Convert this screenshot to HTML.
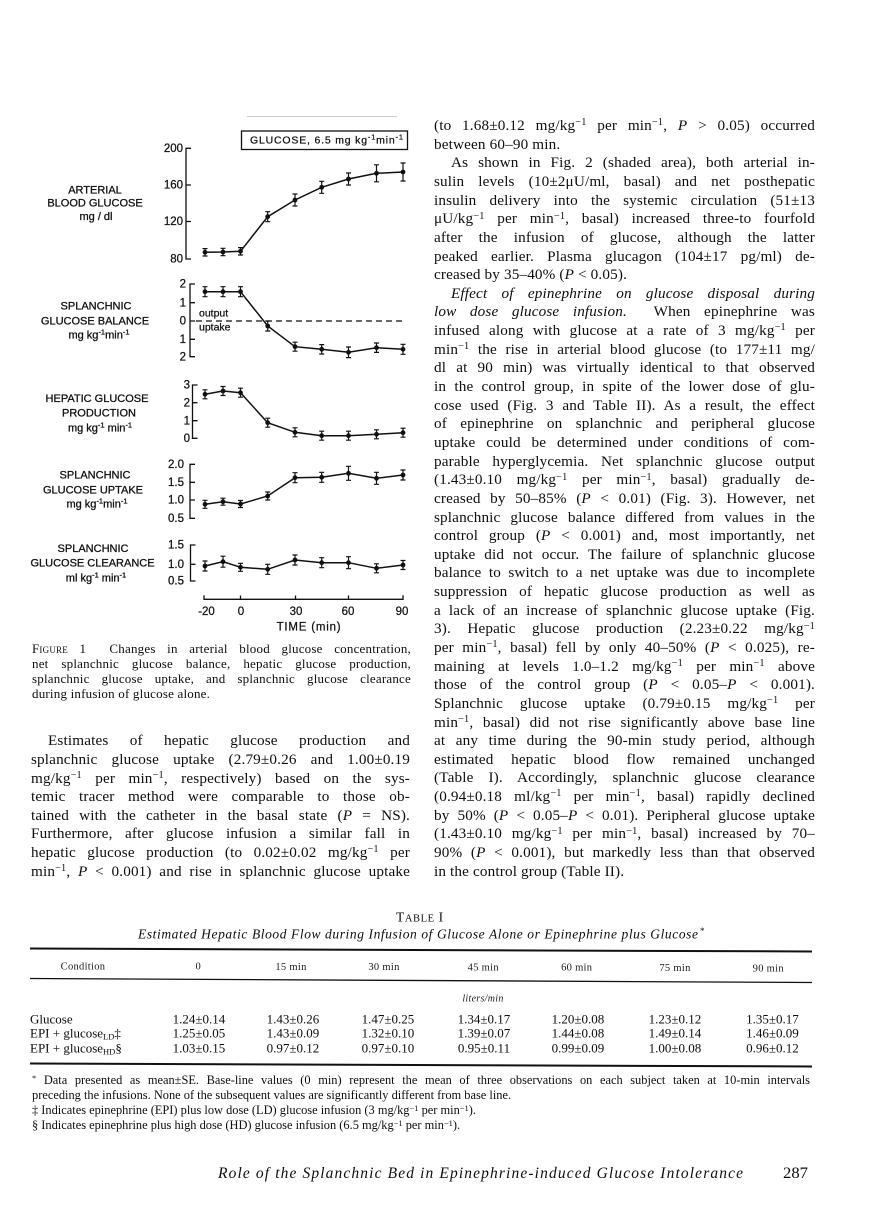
<!DOCTYPE html>
<html><head><meta charset="utf-8">
<style>
html,body{margin:0;padding:0;background:#fff}
body{width:890px;height:1228px;position:relative;overflow:hidden}
svg{position:absolute;left:0;top:0}
.t{position:absolute;font-family:"Liberation Serif",serif;color:#0e0e0e}
.t div{text-align:justify;text-align-last:justify;overflow:hidden}
.t div.e{text-align-last:left}
.t div.in{text-indent:17px}
.body{font-size:15.2px;line-height:18.65px;letter-spacing:0.15px}
.body div{height:18.65px}
.cap{font-size:13px;line-height:14.8px;letter-spacing:0.2px}
.cap div{height:14.8px}
.fn{font-size:12.4px;line-height:15px}
.fn div{height:15px}
sup{font-size:.68em;vertical-align:baseline;position:relative;top:-.45em;line-height:0}
.sc{font-variant:small-caps}
</style></head><body>

<svg width="890" height="1228" viewBox="0 0 890 1228" xmlns="http://www.w3.org/2000/svg">
<defs>
<marker id="dot" markerWidth="6" markerHeight="6" refX="3" refY="3" markerUnits="userSpaceOnUse"><circle cx="3" cy="3" r="2.4" fill="#111"/></marker>
</defs>
<line x1="247" y1="116.5" x2="397" y2="116.5" stroke="#ccc" stroke-width="1"/>
<!-- legend box -->
<rect x="241.5" y="131" width="166" height="18.5" fill="none" stroke="#111" stroke-width="1.3"/>
<text x="250" y="143.5" font-family="Liberation Sans, sans-serif" font-size="10.5" fill="#111" stroke="#111" stroke-width="0.25" textLength="153" lengthAdjust="spacing">GLUCOSE, 6.5 mg kg<tspan dy="-4" font-size="7.5">-1</tspan><tspan dy="4">min</tspan><tspan dy="-4" font-size="7.5">-1</tspan></text>

<g font-family="Liberation Sans, sans-serif" font-size="11" fill="#111" stroke="#111" stroke-width="0.3" text-anchor="middle">
<text x="95" y="193.3">ARTERIAL</text>
<text x="95" y="206.7">BLOOD GLUCOSE</text>
<text x="96" y="220">mg / dl</text>
<text x="96" y="309.5">SPLANCHNIC</text>
<text x="95" y="324.5">GLUCOSE BALANCE</text>
<text x="99" y="338.3">mg kg<tspan dy="-4" font-size="7.5">-1</tspan><tspan dy="4">min</tspan><tspan dy="-4" font-size="7.5">-1</tspan></text>
<text x="97" y="402">HEPATIC GLUCOSE</text>
<text x="99" y="416.5">PRODUCTION</text>
<text x="100" y="431.5">mg kg<tspan dy="-4" font-size="7.5">-1</tspan><tspan dy="4"> min</tspan><tspan dy="-4" font-size="7.5">-1</tspan></text>
<text x="95" y="478.5">SPLANCHNIC</text>
<text x="93" y="493.5">GLUCOSE UPTAKE</text>
<text x="97" y="507.5">mg kg<tspan dy="-4" font-size="7.5">-1</tspan><tspan dy="4">min</tspan><tspan dy="-4" font-size="7.5">-1</tspan></text>
<text x="93" y="552">SPLANCHNIC</text>
<text x="92.5" y="566.7">GLUCOSE CLEARANCE</text>
<text x="96" y="581.7">ml kg<tspan dy="-4" font-size="7.5">-1</tspan><tspan dy="4"> min</tspan><tspan dy="-4" font-size="7.5">-1</tspan></text>
</g>

<!-- tick labels -->
<g font-family="Liberation Sans, sans-serif" font-size="11.5" fill="#111" stroke="#111" stroke-width="0.25" text-anchor="end">
<text x="183" y="152">200</text><text x="183" y="188.7">160</text><text x="183" y="225.2">120</text><text x="183" y="262.7">80</text>
<text x="186" y="287.7">2</text><text x="186" y="306.4">1</text><text x="186" y="324.7">0</text><text x="186" y="343">1</text><text x="186" y="360.4">2</text>
<text x="190" y="388.7">3</text><text x="190" y="406.4">2</text><text x="190" y="424.4">1</text><text x="190" y="442">0</text>
<text x="184" y="468">2.0</text><text x="184" y="486">1.5</text><text x="184" y="503.7">1.0</text><text x="184" y="522">0.5</text>
<text x="184" y="548.7">1.5</text><text x="184" y="568">1.0</text><text x="184" y="584.7">0.5</text>
</g>
<g font-family="Liberation Sans, sans-serif" font-size="10.5" fill="#111" stroke="#111" stroke-width="0.25">
<text x="199" y="316.5">output</text>
<text x="199" y="330.5">uptake</text>
</g>
<g font-family="Liberation Sans, sans-serif" font-size="11.5" fill="#111" stroke="#111" stroke-width="0.25" text-anchor="middle">
<text x="206.5" y="615">-20</text><text x="241" y="615">0</text><text x="296" y="615">30</text><text x="348" y="615">60</text><text x="402" y="615">90</text>
<text x="309" y="630.5" letter-spacing="0.8">TIME (min)</text>
</g>

<!-- axes -->
<g fill="none" stroke="#111" stroke-width="1.3">
<path d="M191 148.3H186V259H191M186 185h5M186 221.5h5"/>
<path d="M195 284H190V356.7H195M190 302.7h5M190 321h5M190 339.3h5"/>
<path d="M197.5 385H192.5V438.3H197.5M192.5 402.7h5M192.5 420.7h5"/>
<path d="M195 464.3H190V518.3H195M190 482.3h5M190 500h5"/>
<path d="M195.5 545H190.5V581H195.5M190.5 564.3h5"/>
<path d="M204 595.3V599.3H403V595.3M240.5 599.3v-3.8M295.5 599.3v-3.8M348.5 599.3v-3.8"/>
</g>
<line x1="196" y1="321" x2="406" y2="321" stroke="#111" stroke-width="1.2" stroke-dasharray="6 4"/>

<!-- series -->
<g fill="none" stroke="#111" stroke-width="1.5" marker-start="url(#dot)" marker-mid="url(#dot)" marker-end="url(#dot)">
<polyline points="205,252.3 223,252 240.5,251.3 267.7,216.7 295,200 321.7,187.3 348.5,179 376.5,173.3 403,172"/>
<polyline points="205,291.7 223,291.7 240.5,291.7 267.7,326 295,346.7 321.7,349.3 348.5,352.3 376.5,347.7 403,349.3"/>
<polyline points="205,394.3 223,391 240.5,392.7 267.7,422.7 295,432.3 321.7,435.7 348.5,435.7 376.5,434.3 403,432.7"/>
<polyline points="205,504.3 223,501.7 240.5,504 267.7,496 295,477.7 321.7,477.3 348.5,473.3 376.5,478.3 403,475"/>
<polyline points="205,566 223,561.7 240.5,567.3 267.7,569.3 295,560 321.7,562.7 348.5,562.7 376.5,568.3 403,565"/>
</g>
<!-- error bars -->
<g fill="none" stroke="#111" stroke-width="1.2">
<path d="M205 248.6V256M202.5 248.6h5M202.5 256h5M223 248.3V255.7M220.5 248.3h5M220.5 255.7h5M240.5 247.6V255M238 247.6h5M238 255h5M267.7 211.7V221.7M265.2 211.7h5M265.2 221.7h5M295 194V206M292.5 194h5M292.5 206h5M321.7 181.3V193.3M319.2 181.3h5M319.2 193.3h5M348.5 173V185M346 173h5M346 185h5M376.5 164.8V181.8M374 164.8h5M374 181.8h5M403 163V181M400.5 163h5M400.5 181h5"/>
<path d="M205 286.7V296.7M202.5 286.7h5M202.5 296.7h5M223 286.7V296.7M220.5 286.7h5M220.5 296.7h5M240.5 286.7V296.7M238 286.7h5M238 296.7h5M267.7 321V331M265.2 321h5M265.2 331h5M295 342.2V351.2M292.5 342.2h5M292.5 351.2h5M321.7 344.6V354M319.2 344.6h5M319.2 354h5M348.5 347V357.6M346 347h5M346 357.6h5M376.5 343V352.4M374 343h5M374 352.4h5M403 344.3V354.3M400.5 344.3h5M400.5 354.3h5"/>
<path d="M205 389.8V398.8M202.5 389.8h5M202.5 398.8h5M223 386.5V395.5M220.5 386.5h5M220.5 395.5h5M240.5 388.2V397.2M238 388.2h5M238 397.2h5M267.7 418.2V427.2M265.2 418.2h5M265.2 427.2h5M295 427.8V436.8M292.5 427.8h5M292.5 436.8h5M321.7 431.2V440.2M319.2 431.2h5M319.2 440.2h5M348.5 431.2V440.2M346 431.2h5M346 440.2h5M376.5 429.8V438.8M374 429.8h5M374 438.8h5M403 428.2V437.2M400.5 428.2h5M400.5 437.2h5"/>
<path d="M205 500.3V508.3M202.5 500.3h5M202.5 508.3h5M223 498.2V505.2M220.5 498.2h5M220.5 505.2h5M240.5 500.5V507.5M238 500.5h5M238 507.5h5M267.7 492V500M265.2 492h5M265.2 500h5M295 472.7V482.7M292.5 472.7h5M292.5 482.7h5M321.7 472.3V482.3M319.2 472.3h5M319.2 482.3h5M348.5 466.3V480.3M346 466.3h5M346 480.3h5M376.5 472.3V484.3M374 472.3h5M374 484.3h5M403 470V480M400.5 470h5M400.5 480h5"/>
<path d="M205 561V571M202.5 561h5M202.5 571h5M223 556.2V567.2M220.5 556.2h5M220.5 567.2h5M240.5 563.3V571.3M238 563.3h5M238 571.3h5M267.7 564.3V574.3M265.2 564.3h5M265.2 574.3h5M295 555V565M292.5 555h5M292.5 565h5M321.7 557.7V567.7M319.2 557.7h5M319.2 567.7h5M348.5 556.7V568.7M346 556.7h5M346 568.7h5M376.5 563.8V572.8M374 563.8h5M374 572.8h5M403 560.5V569.5M400.5 560.5h5M400.5 569.5h5"/>
</g>

<!-- TABLE -->
<g font-family="Liberation Serif, serif" fill="#0e0e0e">
<text x="396" y="921.7" font-size="13.5" letter-spacing="0.6">T<tspan font-size="10.5">ABLE</tspan> I</text>
<text x="138" y="938.3" font-size="13.5" font-style="italic" textLength="560" lengthAdjust="spacing">Estimated Hepatic Blood Flow during Infusion of Glucose Alone or Epinephrine plus Glucose</text>
<text x="700" y="934" font-size="9">*</text>
</g>
<g stroke="#111" fill="none">
<line x1="30" y1="948.5" x2="812" y2="951.5" stroke-width="2"/>
<line x1="30" y1="978.5" x2="812" y2="982.5" stroke-width="1.3"/>
<line x1="30" y1="1063.5" x2="812" y2="1066.5" stroke-width="2"/>
</g>
<g font-family="Liberation Serif, serif" fill="#1a1a1a" font-size="10.5" text-anchor="middle" letter-spacing="0.3">
<text x="83" y="969.5">Condition</text>
<text x="198.3" y="969.5">0</text>
<text x="291" y="969.8">15 min</text>
<text x="384" y="970">30 min</text>
<text x="483.3" y="970.3">45 min</text>
<text x="576.7" y="970.6">60 min</text>
<text x="675" y="971">75 min</text>
<text x="768.3" y="971.4">90 min</text>
<text x="483" y="1001.5" font-style="italic" font-size="10">liters/min</text>
</g>
<g font-family="Liberation Serif, serif" fill="#0e0e0e" font-size="13">
<text x="30" y="1023.3">Glucose</text>
<text x="30" y="1037.7">EPI + glucose<tspan font-size="8.5" dy="2">LD</tspan><tspan dy="-2">‡</tspan></text>
<text x="30" y="1052.7">EPI + glucose<tspan font-size="8.5" dy="2">HD</tspan><tspan dy="-2">§</tspan></text>
<g text-anchor="middle">
<text x="199" y="1023.3">1.24±0.14</text><text x="293" y="1023.3">1.43±0.26</text><text x="388" y="1023.3">1.47±0.25</text><text x="484" y="1023.3">1.34±0.17</text><text x="578" y="1023.3">1.20±0.08</text><text x="675" y="1023.3">1.23±0.12</text><text x="772.5" y="1023.3">1.35±0.17</text>
<text x="199" y="1037.7">1.25±0.05</text><text x="293" y="1037.7">1.43±0.09</text><text x="388" y="1037.7">1.32±0.10</text><text x="484" y="1037.7">1.39±0.07</text><text x="578" y="1037.7">1.44±0.08</text><text x="675" y="1037.7">1.49±0.14</text><text x="772.5" y="1037.7">1.46±0.09</text>
<text x="199" y="1052.7">1.03±0.15</text><text x="293" y="1052.7">0.97±0.12</text><text x="388" y="1052.7">0.97±0.10</text><text x="484" y="1052.7">0.95±0.11</text><text x="578" y="1052.7">0.99±0.09</text><text x="675" y="1052.7">1.00±0.08</text><text x="772.5" y="1052.7">0.96±0.12</text>
</g>
</g>

<!-- footer -->
<g font-family="Liberation Serif, serif" fill="#0e0e0e">
<text x="218" y="1178" font-size="15.5" font-style="italic" textLength="525" lengthAdjust="spacing">Role of the Splanchnic Bed in Epinephrine-induced Glucose Intolerance</text>
<text x="783" y="1178" font-size="16" textLength="25" lengthAdjust="spacingAndGlyphs">287</text>
</g>
</svg>

<!-- Caption -->
<div class="t cap" style="left:32px;top:642.2px;width:379px">
<div><span class="sc">Figure</span> 1&nbsp; Changes in arterial blood glucose concentration,</div>
<div>net splanchnic glucose balance, hepatic glucose production,</div>
<div>splanchnic glucose uptake, and splanchnic glucose clearance</div>
<div class="e">during infusion of glucose alone.</div>
</div>

<!-- Left column body -->
<div class="t body" style="left:31px;top:732.25px;width:379px">
<div class="in">Estimates of hepatic glucose production and</div>
<div>splanchnic glucose uptake (2.79±0.26 and 1.00±0.19</div>
<div>mg/kg<sup>−1</sup> per min<sup>−1</sup>, respectively) based on the sys-</div>
<div>temic tracer method were comparable to those ob-</div>
<div>tained with the catheter in the basal state (<i>P</i> = NS).</div>
<div>Furthermore, after glucose infusion a similar fall in</div>
<div>hepatic glucose production (to 0.02±0.02 mg/kg<sup>−1</sup> per</div>
<div>min<sup>−1</sup>, <i>P</i> &lt; 0.001) and rise in splanchnic glucose uptake</div>
</div>

<!-- Right column body -->
<div class="t body" style="left:434px;top:117.05px;width:381px">
<div>(to 1.68±0.12 mg/kg<sup>−1</sup> per min<sup>−1</sup>, <i>P</i> &gt; 0.05) occurred</div>
<div class="e">between 60–90 min.</div>
<div class="in">As shown in Fig. 2 (shaded area), both arterial in-</div>
<div>sulin levels (10±2μU/ml, basal) and net posthepatic</div>
<div>insulin delivery into the systemic circulation (51±13</div>
<div>μU/kg<sup>−1</sup> per min<sup>−1</sup>, basal) increased three-to fourfold</div>
<div>after the infusion of glucose, although the latter</div>
<div>peaked earlier. Plasma glucagon (104±17 pg/ml) de-</div>
<div class="e">creased by 35–40% (<i>P</i> &lt; 0.05).</div>
<div class="in"><i>Effect of epinephrine on glucose disposal during</i></div>
<div><i>low dose glucose infusion.</i>&nbsp; When epinephrine was</div>
<div>infused along with glucose at a rate of 3 mg/kg<sup>−1</sup> per</div>
<div>min<sup>−1</sup> the rise in arterial blood glucose (to 177±11 mg/</div>
<div>dl at 90 min) was virtually identical to that observed</div>
<div>in the control group, in spite of the lower dose of glu-</div>
<div>cose used (Fig. 3 and Table II). As a result, the effect</div>
<div>of epinephrine on splanchnic and peripheral glucose</div>
<div>uptake could be determined under conditions of com-</div>
<div>parable hyperglycemia. Net splanchnic glucose output</div>
<div>(1.43±0.10 mg/kg<sup>−1</sup> per min<sup>−1</sup>, basal) gradually de-</div>
<div>creased by 50–85% (<i>P</i> &lt; 0.01) (Fig. 3). However, net</div>
<div>splanchnic glucose balance differed from values in the</div>
<div>control group (<i>P</i> &lt; 0.001) and, most importantly, net</div>
<div>uptake did not occur. The failure of splanchnic glucose</div>
<div>balance to switch to a net uptake was due to incomplete</div>
<div>suppression of hepatic glucose production as well as</div>
<div>a lack of an increase of splanchnic glucose uptake (Fig.</div>
<div>3). Hepatic glucose production (2.23±0.22 mg/kg<sup>−1</sup></div>
<div>per min<sup>−1</sup>, basal) fell by only 40–50% (<i>P</i> &lt; 0.025), re-</div>
<div>maining at levels 1.0–1.2 mg/kg<sup>−1</sup> per min<sup>−1</sup> above</div>
<div>those of the control group (<i>P</i> &lt; 0.05–<i>P</i> &lt; 0.001).</div>
<div>Splanchnic glucose uptake (0.79±0.15 mg/kg<sup>−1</sup> per</div>
<div>min<sup>−1</sup>, basal) did not rise significantly above base line</div>
<div>at any time during the 90-min study period, although</div>
<div>estimated hepatic blood flow remained unchanged</div>
<div>(Table I). Accordingly, splanchnic glucose clearance</div>
<div>(0.94±0.18 ml/kg<sup>−1</sup> per min<sup>−1</sup>, basal) rapidly declined</div>
<div>by 50% (<i>P</i> &lt; 0.05–<i>P</i> &lt; 0.01). Peripheral glucose uptake</div>
<div>(1.43±0.10 mg/kg<sup>−1</sup> per min<sup>−1</sup>, basal) increased by 70–</div>
<div>90% (<i>P</i> &lt; 0.001), but markedly less than that observed</div>
<div class="e">in the control group (Table II).</div>
</div>

<!-- Footnotes -->
<div class="t fn" style="left:32px;top:1073.4px;width:778px">
<div><sup>*</sup> Data presented as mean±SE. Base-line values (0 min) represent the mean of three observations on each subject taken at 10-min intervals</div>
<div class="e">preceding the infusions. None of the subsequent values are significantly different from base line.</div>
<div class="e">‡ Indicates epinephrine (EPI) plus low dose (LD) glucose infusion (3 mg/kg<sup>−1</sup> per min<sup>−1</sup>).</div>
<div class="e">§ Indicates epinephrine plus high dose (HD) glucose infusion (6.5 mg/kg<sup>−1</sup> per min<sup>−1</sup>).</div>
</div>

</body></html>
